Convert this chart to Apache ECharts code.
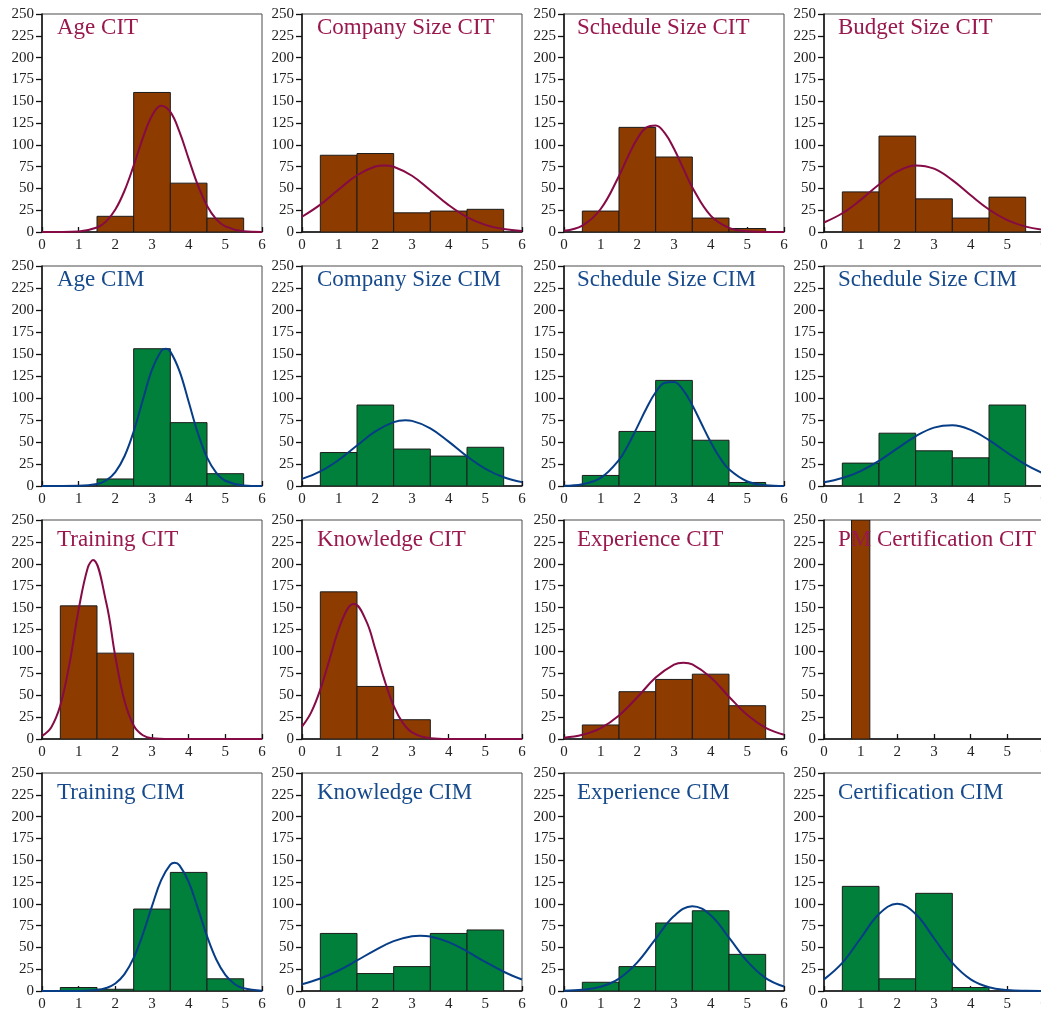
<!DOCTYPE html>
<html>
<head>
<meta charset="utf-8">
<style>
html,body{margin:0;padding:0;background:#fff;}
#chart{width:1041px;height:1012px;}
</style>
<script src="https://cdn.jsdelivr.net/npm/echarts@6/dist/echarts.min.js"></script>
</head>
<body>
<div id="chart"></div>
<script>
// ---------- data ----------
const titles = ['Age CIT','Company Size CIT','Schedule Size CIT','Budget Size CIT',
  'Age CIM','Company Size CIM','Schedule Size CIM','Schedule Size CIM',
  'Training CIT','Knowledge CIT','Experience CIT','PM Certification CIT',
  'Training CIM','Knowledge CIM','Experience CIM','Certification CIM'];
const xTicks = [0,1,2,3,4,5,6];
const yTicks = [0,25,50,75,100,125,150,175,200,225,250];
const binCenters = [1,2,3,4,5];
const binWidth = 1;
const pmBinCenters = [1];
const pmBinWidth = 0.5;

const barsAgeCIT = [0,18,160,56,16];
const barsCompanyCIT = [88,90,22,24,26];
const barsScheduleCIT = [24,120,86,16,4];
const barsBudgetCIT = [46,110,38,16,40];
const barsAgeCIM = [0,8,156,72,14];
const barsCompanyCIM = [38,92,42,34,44];
const barsScheduleCIM = [12,62,120,52,4];
const barsScheduleCIM2 = [26,60,40,32,92];
const barsTrainingCIT = [152,98,0,0,0];
const barsKnowledgeCIT = [168,60,22,0,0];
const barsExperienceCIT = [16,54,68,74,38];
const barsPMCertCIT = [250];
const barsTrainingCIM = [4,2,94,136,14];
const barsKnowledgeCIM = [66,20,28,66,70];
const barsExperienceCIM = [10,28,78,92,42];
const barsCertCIM = [120,14,112,4,0];

const curveAgeCIT = [[0,0],[0.5,0.04],[1,0.6],[1.5,5.1],[1.75,12.2],[2,25.7],[2.25,47.3],[2.5,76.2],[2.75,107.7],[3,133.4],[3.25,144.8],[3.5,137.7],[3.75,114.8],[4,83.8],[4.25,53.7],[4.5,30.1],[4.75,14.8],[5,6.4],[5.5,0.8],[6,0.06]];
const curveCompanyCIT = [[0,17.5],[0.5,31.4],[1,48.7],[1.5,65.1],[2,75.2],[2.24,76.4],[2.5,74.9],[3,64.5],[3.5,47.9],[4,30.8],[4.5,17.1],[5,8.2],[5.5,3.4],[6,1.2]];
const curveScheduleCIT = [[0,1.4],[0.5,7.4],[1,26.4],[1.5,64.3],[1.75,87.0],[2,107.1],[2.25,120.0],[2.5,122.2],[2.75,113.3],[3,95.5],[3.25,73.2],[3.5,51.1],[4,18.7],[4.5,4.7],[5,0.8],[5.5,0.09],[6,0.01]];
const curveBudgetCIT = [[0,10.9],[0.5,21.5],[1,36.8],[1.5,54.4],[2,69.4],[2.5,76.4],[3,72.6],[3.5,59.5],[4,42.1],[4.5,25.8],[5,13.6],[5.5,6.2],[6,2.4]];
const curveAgeCIM = [[0,0],[0.5,0.01],[1,0.16],[1.5,2.2],[1.75,6.3],[2,15.8],[2.25,33.8],[2.5,62.0],[2.75,97.8],[3,132.2],[3.25,153.4],[3.37,156.0],[3.5,152.7],[3.75,130.5],[4,95.7],[4.25,60.2],[4.5,32.5],[4.75,15.1],[5,6.0],[5.5,0.6],[6,0.03]];
const curveCompanyCIM = [[0,8.1],[0.5,16.6],[1,29.6],[1.5,46.0],[2,62.0],[2.5,72.6],[2.82,74.7],[3,74.0],[3.5,65.5],[4,50.4],[4.5,33.7],[5,19.6],[5.5,9.9],[6,4.4]];
const curveScheduleCIM = [[0,0.3],[0.5,2.0],[1,9.2],[1.5,29.7],[1.75,46.7],[2,67.2],[2.25,88.4],[2.5,106.5],[2.75,117.3],[3,118.2],[3.25,108.9],[3.5,91.8],[3.75,70.8],[4,49.9],[4.25,32.2],[4.5,19.0],[5,5.1],[5.5,0.95],[6,0.12]];
const curveScheduleCIM2 = [[0,4.2],[0.5,9.0],[1,17.0],[1.5,28.6],[2,42.7],[2.5,56.5],[3,66.3],[3.5,69.0],[4,63.7],[4.5,52.1],[5,37.8],[5.5,24.4],[6,13.9]];
const curveTrainingCIT = [[0,3.5],[0.25,13.2],[0.5,38.5],[0.75,86.0],[1,148.0],[1.25,195.8],[1.39,204.3],[1.75,156.1],[2,94.1],[2.25,43.6],[2.5,15.5],[2.75,4.3],[3,0.9],[3.5,0.02],[4,0],[5,0],[6,0]];
const curveKnowledgeCIT = [[0,14.1],[0.25,30.4],[0.5,56.6],[0.75,90.8],[1,125.3],[1.25,149.1],[1.42,154.1],[1.75,134.9],[2,102.6],[2.25,67.2],[2.5,37.9],[2.75,18.4],[3,7.7],[3.5,0.9],[4,0.05],[5,0],[6,0]];
const curveExperienceCIT = [[0,1.5],[0.5,4.8],[1,12.5],[1.5,26.9],[2,47.7],[2.5,70.1],[3,85.0],[3.26,87.1],[3.5,85.2],[4,70.5],[4.5,48.3],[5,27.3],[5.5,12.8],[6,4.9]];
const curvePMCertCIT = [];
const curveTrainingCIM = [[0,0],[0.5,0],[1,0.09],[1.5,1.1],[1.75,3.4],[2,8.6],[2.25,19.4],[2.5,38.0],[2.75,65.1],[3,97.3],[3.25,127.1],[3.5,144.8],[3.62,147.0],[3.75,144.1],[4,125.2],[4.25,95.0],[4.5,62.9],[4.75,36.4],[5,18.4],[5.25,8.1],[5.5,3.1],[6,0.3]];
const curveKnowledgeCIM = [[0,7.8],[0.5,14.3],[1,23.5],[1.5,35.0],[2,47.0],[2.5,57.2],[3,62.8],[3.22,63.4],[3.5,62.4],[4,56.0],[4.5,45.4],[5,33.3],[5.5,22.1],[6,13.2]];
const curveExperienceCIM = [[0,0.3],[0.5,1.3],[1,4.8],[1.5,14.2],[2,32.8],[2.5,59.8],[3,85.9],[3.5,97.3],[4,86.9],[4.5,61.1],[5,33.9],[5.5,14.8],[6,5.1]];
const curveCertCIM = [[0,13.3],[0.5,32.2],[1,60.5],[1.5,88.3],[2,100.1],[2.5,88.3],[3,60.5],[3.5,32.2],[4,13.3],[4.5,4.3],[5,1.1],[5.5,0.2],[6,0.03]];

// ---------- assembly ----------
const barSets = [barsAgeCIT,barsCompanyCIT,barsScheduleCIT,barsBudgetCIT,
  barsAgeCIM,barsCompanyCIM,barsScheduleCIM,barsScheduleCIM2,
  barsTrainingCIT,barsKnowledgeCIT,barsExperienceCIT,barsPMCertCIT,
  barsTrainingCIM,barsKnowledgeCIM,barsExperienceCIM,barsCertCIM];
const curveSets = [curveAgeCIT,curveCompanyCIT,curveScheduleCIT,curveBudgetCIT,
  curveAgeCIM,curveCompanyCIM,curveScheduleCIM,curveScheduleCIM2,
  curveTrainingCIT,curveKnowledgeCIT,curveExperienceCIT,curvePMCertCIT,
  curveTrainingCIM,curveKnowledgeCIM,curveExperienceCIM,curveCertCIM];

const colLeft = [42, 302, 564, 824];
const rowTop = [14, 266, 520, 773];
const rowH = [218, 220, 219, 218];
const titleDx = [15, 15, 13, 14];
const titleDy = [2, 2, 8, 8];
const W = 220;

const STYLE = {
  CIT: {bar:'#8e3b00', line:'#850a45', title:'#99184e'},
  CIM: {bar:'#00803a', line:'#063d86', title:'#164a8c'}
};
const FONT = '"Liberation Serif", "DejaVu Serif", serif';

const grids = [], xAxes = [], yAxes = [], series = [], titleComps = [];
titles.forEach((t, i) => {
  const r = Math.floor(i / 4), c = i % 4;
  const kind = t.endsWith('CIT') ? 'CIT' : 'CIM';
  const st = STYLE[kind];
  grids.push({left: colLeft[c], top: rowTop[r], width: W, height: rowH[r],
    outerBoundsMode: 'none', containLabel: false,
    show: true, borderColor: '#4a4a4a', borderWidth: 1, backgroundColor: 'transparent'});
  xAxes.push({type:'value', gridIndex:i, min:xTicks[0], max:xTicks[xTicks.length-1], interval:1,
    axisLine:{show:true, onZero:false, lineStyle:{color:'#111', width:1.5}},
    axisTick:{show:true, inside:true, length:5, lineStyle:{color:'#111', width:1.3}},
    axisLabel:{show:true, margin:6, color:'#222', fontFamily:FONT, fontSize:15,
      showMinLabel:true, showMaxLabel:true, hideOverlap:false},
    splitLine:{show:false}});
  yAxes.push({type:'value', gridIndex:i, min:yTicks[0], max:yTicks[yTicks.length-1], interval:25,
    axisLine:{show:true, onZero:false, lineStyle:{color:'#111', width:1.5}},
    axisTick:{show:true, inside:false, length:6, lineStyle:{color:'#111', width:1.3}},
    axisLabel:{show:true, margin:8, color:'#222', fontFamily:FONT, fontSize:15,
      showMinLabel:true, showMaxLabel:true, hideOverlap:false},
    splitLine:{show:false}});
  const isPM = barSets[i].length === 1;
  const centers = isPM ? pmBinCenters : binCenters;
  const bw = isPM ? pmBinWidth : binWidth;
  const data = barSets[i].map((v, k) => [centers[k], v, bw]);
  series.push({type:'custom', xAxisIndex:i, yAxisIndex:i, clip:true, silent:true,
    data: data,
    renderItem: (params, api) => {
      const x = api.value(0), y = api.value(1), w = api.value(2);
      if (!y) return null;
      const p0 = api.coord([x - w/2, y]);
      const p1 = api.coord([x + w/2, 0]);
      return {type:'rect',
        shape:{x:p0[0], y:p0[1], width:p1[0]-p0[0], height:p1[1]-p0[1]},
        style:{fill:st.bar, stroke:'#1c1c1c', lineWidth:1}};
    }, z:2});
  if (curveSets[i].length) {
    series.push({type:'line', xAxisIndex:i, yAxisIndex:i, data:curveSets[i],
      smooth:0.4, showSymbol:false, symbol:'none', clip:true, silent:true,
      lineStyle:{color:st.line, width:2}, z:3});
  }
  titleComps.push({text:t, left: colLeft[c] + titleDx[c], top: rowTop[r] + titleDy[r], padding:0,
    textStyle:{color:st.title, fontFamily:FONT, fontSize:23, fontWeight:'normal'}});
});

const chart = echarts.init(document.getElementById('chart'), null, {renderer:'canvas'});
chart.setOption({
  animation:false,
  backgroundColor:'#ffffff',
  title: titleComps,
  grid: grids,
  xAxis: xAxes,
  yAxis: yAxes,
  series: series
});
</script>
</body>
</html>
